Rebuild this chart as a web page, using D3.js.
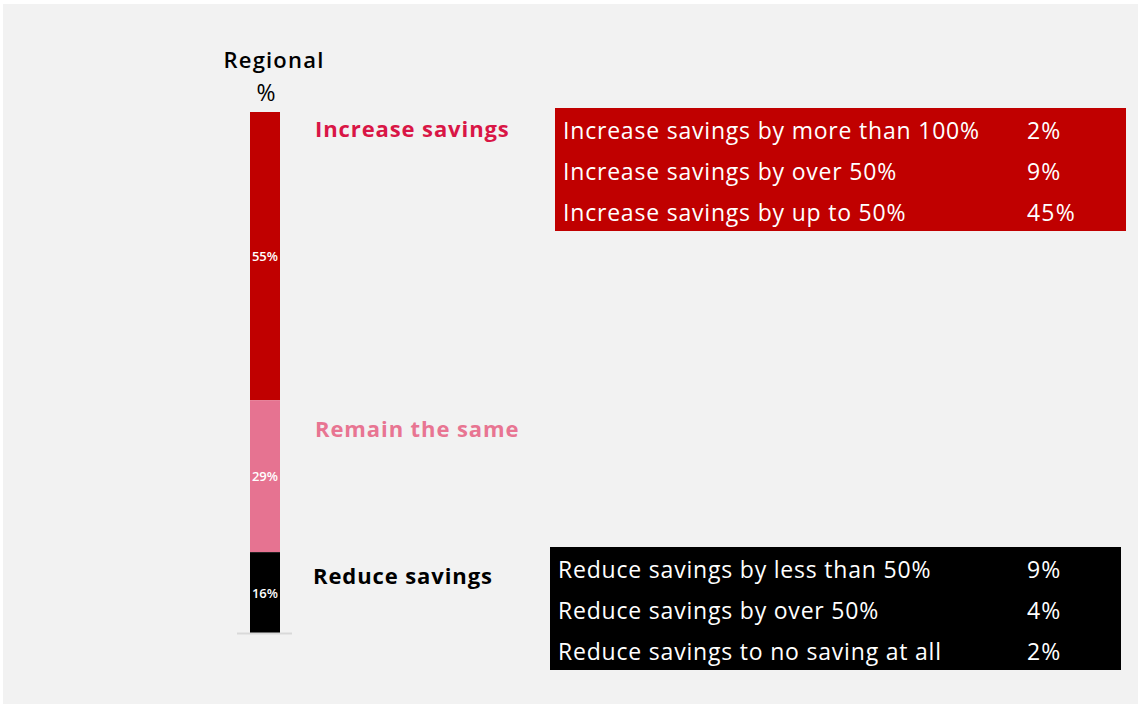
<!DOCTYPE html>
<html>
<head>
    <meta charset='utf-8'>
</head>
<style>
    body { margin: 0; background: #fff; }
    * { font-family: 'Open Sans', sans-serif; }
</style>
<body>
    <svg width="1141" height="707"></svg>
    <script src="https://d3js.org/d3.v7.min.js"></script>
    <script>
        // stacked bar (top to bottom)
        var categories = ["Increase savings", "Remain the same", "Reduce savings"];
        var shares = [55, 29, 16];
        var barColors = ["#c00000", "#e67391", "#000000"];
        var labelColors = ["#d91646", "#e87592", "#000000"];

        // breakdown tables
        var increaseRows = ["Increase savings by more than 100%", "Increase savings by over 50%", "Increase savings by up to 50%"];
        var increaseVals = [2, 9, 45];
        var reduceRows = ["Reduce savings by less than 50%", "Reduce savings by over 50%", "Reduce savings to no saving at all"];
        var reduceVals = [9, 4, 2];

        var svg = d3.select('svg');
        svg.append('rect')
            .attr('x', 3).attr('y', 4)
            .attr('width', 1135).attr('height', 700)
            .attr('fill', '#f2f2f2');

        var y = d3.scaleLinear().domain([0, 100]).range([112, 636]);

        var stack = [];
        var acc = 0;
        shares.forEach(function(v, i) {
            stack.push({ cat: categories[i], v: v, y0: acc, y1: acc + v, i: i });
            acc += v;
        });

        svg.append('text')
            .attr('x', 274).attr('y', 68)
            .attr('text-anchor', 'middle')
            .attr('font-size', 22).attr('font-weight', 600)
            .attr('letter-spacing', 1.2)
            .text('Regional');
        svg.append('text')
            .attr('x', 266).attr('y', 101)
            .attr('text-anchor', 'middle')
            .attr('font-size', 23)
            .text('%');

        svg.selectAll('.seg')
            .data(stack).enter().append('rect')
            .attr('x', 250).attr('width', 30)
            .attr('y', function(d) { return y(d.y0); })
            .attr('height', function(d) { return Math.min(y(d.y1), 633) - y(d.y0); })
            .attr('fill', function(d) { return barColors[d.i]; });

        svg.selectAll('.segl')
            .data(stack).enter().append('text')
            .attr('x', 265)
            .attr('y', function(d) { return (y(d.y0) + Math.min(y(d.y1), 633)) / 2 + 5; })
            .attr('text-anchor', 'middle')
            .attr('font-size', 13).attr('font-weight', 600)
            .attr('fill', '#fff')
            .text(function(d) { return d.v + '%'; });

        svg.append('line')
            .attr('x1', 237).attr('x2', 292)
            .attr('y1', 633.5).attr('y2', 633.5)
            .attr('stroke', '#d9d9d9').attr('stroke-width', 2);

        var catPos = [[315, 137], [315, 437], [313, 584]];
        svg.selectAll('.cat')
            .data(stack).enter().append('text')
            .attr('x', function(d) { return catPos[d.i][0]; })
            .attr('y', function(d) { return catPos[d.i][1]; })
            .attr('font-size', 22).attr('font-weight', 700)
            .attr('letter-spacing', 0.9)
            .attr('fill', function(d) { return labelColors[d.i]; })
            .text(function(d) { return d.cat; });

        function table(x, top, rows, vals, fill) {
            var g = svg.append('g');
            g.append('rect')
                .attr('x', x).attr('y', top)
                .attr('width', 571).attr('height', 123)
                .attr('fill', fill);
            var ry = d3.scaleBand().domain(d3.range(rows.length)).range([top, top + 123]);
            rows.forEach(function(r, i) {
                var cy = ry(i) + ry.bandwidth() / 2 + 10;
                g.append('text')
                    .attr('x', x + 8).attr('y', cy)
                    .attr('font-size', 23).attr('font-weight', 400)
                    .attr('letter-spacing', 0.8)
                    .attr('fill', '#fff')
                    .text(r);
                g.append('text')
                    .attr('x', 1027).attr('y', cy)
                    .attr('font-size', 23).attr('font-weight', 400)
                    .attr('letter-spacing', 1.2)
                    .attr('fill', '#fff')
                    .text(vals[i] + '%');
            });
        }
        table(555, 108, increaseRows, increaseVals, '#c00000');
        table(550, 547, reduceRows, reduceVals, '#000000');
    </script>
</body>
</html>
